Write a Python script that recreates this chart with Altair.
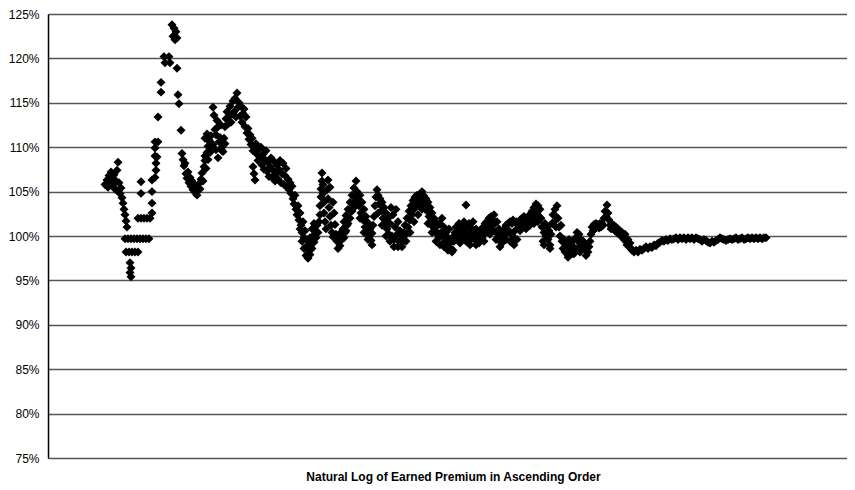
import altair as alt
import pandas as pd

# Position in ascending order of ln(earned premium) and ratio in percent
seg_left = [(105,105.8),(107,106.3),(108,105.5),(109,106.8),(110,105.9),(111,107.2),(112,106.4),(113,105.6),
            (114,106.9),(115,105.3),(116,106.2),(117,107.4),(118,108.3),(118,105.0),(119,106.0),(120,104.8),
            (121,105.4),(122,104.3),(123,103.7),(124,103.0),(125,102.4),(126,101.7),(127,101.0),
            (125,99.7),(128,99.7),(131,99.7),(134,99.7),(137,99.7),(140,99.7),(143,99.7),(146,99.7),(149,99.7),
            (126,98.2),(129,98.2),(132,98.2),(135,98.2),(138,98.2),
            (130,97.0),(131,96.4),(130,95.9),(131,95.4),
            (138,102.0),(141,102.0),(144,102.0),(147,102.0),(150,102.0),(152,102.6),
            (141,104.8),(141,106.1),(152,106.3),(152,105.0),(152,103.7)]
seg_spike = [(155,106.6),(156,107.4),(156,108.2),(155,109.0),(157,108.9),(155,109.9),(158,110.6),(155,110.6),
             (158,113.4),(161,116.2),(161,117.3),(164,120.2),(165,119.5),(169,120.2),(170,119.5),
             (172,123.8),(174,123.4),(176,123.0),(173,122.5),(175,122.1),(177,122.3),(177,118.9),
             (178,115.9),(179,114.9),(181,111.9)]
seg_vee = [(182,109.3),(183,108.6),(184,107.9),(185,108.2),(186,107.0),(187,106.5),(188,107.2),(189,106.0),
           (190,106.6),(191,105.6),(192,106.2),(193,105.2),(194,105.8),(195,104.9),(196,105.3),(197,104.6),
           (198,105.4),(199,105.9),(200,105.3),(201,106.4),(202,107.1),(203,106.2),(204,107.8),(205,108.5),
           (206,107.6),(207,109.4),(208,110.1),(209,110.7),(210,110.0)]
seg_peak = [(205,111.0),(207,111.5),(209,110.8),(211,111.3),(213,114.5),(214,113.6),(215,112.0),(216,111.4),
            (217,113.0),(218,112.3),(219,110.6),(220,111.1),(221,112.5),(222,110.0),(223,109.5),(224,111.0),
            (225,112.3),(226,113.2),(227,114.0),(228,112.6),(229,113.5),(230,114.6),(231,112.8),(232,113.7),
            (233,115.2),(234,114.0),(235,115.5),(236,113.4),(237,116.1),(238,114.5),(239,115.0),(240,113.5),
            (241,114.6),(242,112.8),(243,113.8),(244,114.3),(245,112.3),(246,113.4),(247,111.6),(248,112.1),
            (249,110.9),(250,111.4),
            (205,109.0),(208,108.6),(210,109.4),(213,110.3),(216,109.7),(218,108.8),(222,109.6),(225,110.4)]
seg_slide = [(251,110.3),(252,111.0),(253,109.6),(253,107.8),(254,107.0),(255,106.3),(255,109.8),(256,110.4),
             (257,109.2),(258,108.5),(259,109.8),(260,108.8),(261,110.0),(262,108.0),(263,109.2),(264,107.5),
             (265,108.6),(266,109.6),(267,107.3),(268,108.3),(269,106.7),(270,107.8),(271,108.8),(272,106.6),
             (273,107.4),(274,108.4),(275,106.2),(276,107.0),(277,108.0),(278,106.4),(279,107.5),(280,108.5),
             (281,106.0),(282,107.0),(283,108.2),(284,105.8),(285,106.8),(286,107.6),(287,105.5),(288,106.4),
             (289,105.2),(290,106.0)]
seg_waves1 = [(291,104.8),(292,105.6),(293,104.2),(294,103.6),(295,104.6),(296,103.0),(297,102.4),(298,103.4),
              (299,101.8),(300,102.6),(301,101.2),(302,100.4),(303,101.6),(304,99.8),(305,100.6),(306,98.8),
              (307,99.6),(308,97.5),(309,98.4),(310,97.9),(311,99.2),(312,98.6),(313,100.0),(314,99.3),
              (315,100.6),(316,99.8),(317,101.2),(318,100.4),
              (319,101.6),(320,102.4),(320,103.4),(321,104.4),(321,105.3),(322,106.2),(322,107.1),(323,105.8),
              (323,104.8),(324,103.8),(324,102.6),(325,101.6),(326,100.8),
              (327,105.2),(328,106.3),(328,104.2),(329,103.2),(330,105.5),(330,102.2),(331,101.2),(332,100.4),
              (333,99.9),(333,103.8),(334,102.6),
              (335,101.3),(336,100.2),(337,99.4),(338,98.6),(339,99.8),(340,98.9),(341,100.4),(342,99.6),
              (343,100.8),(344,101.6),(345,100.4),(346,102.3),(347,101.2),(348,103.0),(349,102.0),(350,103.8),
              (351,102.8),(352,104.6),(353,103.5),(354,105.4),(355,104.3),(356,106.2),(357,105.0)]
seg_waves2 = [(358,104.2),(359,103.4),(360,104.6),(361,102.6),(362,103.8),(363,101.8),(364,103.0),(365,101.0),
              (366,102.2),(367,100.3),(368,101.5),(369,99.8),(370,100.8),(371,99.5),(372,100.3),(373,101.2),
              (374,102.2),(375,103.4),(376,104.4),(377,105.2),(378,104.6),(379,103.6),(380,104.2),(381,102.8),
              (382,103.8),(383,102.0),(384,103.2),(385,101.4),(386,102.6),(387,100.8),(388,102.0),(389,100.2),
              (390,101.4),(391,103.2),(392,100.0),(393,102.4),(394,99.6),(395,101.0),(396,103.0),(397,100.2),
              (398,101.6),(399,99.4),(400,100.6),(401,99.2),(402,100.0),(403,99.4),
              (404,100.4),(405,101.2),(406,100.2),(407,102.0),(408,101.0),(409,102.8),(410,101.8),(411,103.4),
              (412,102.4),(413,104.0),(414,103.0),(415,104.4),(416,103.4),(417,104.6),(418,103.6),(419,104.2),
              (420,103.4),(421,104.8),(422,105.0),(423,104.0),(424,104.5)]
seg_waves3 = [(425,103.6),(426,104.2),(427,102.8),(428,103.8),(429,102.2),(430,103.2),(431,101.6),(432,102.6),
              (433,101.0),(434,102.0),(435,100.6),(436,101.6),(437,100.2),(438,101.2),(439,99.8),(440,101.4),
              (441,100.4),(442,102.0),(443,100.0),(444,101.0),(445,99.4),(446,100.4),(447,98.8),(448,99.8),
              (449,100.8),(450,99.2),(451,98.6),(452,99.8),(453,98.4),(454,99.4),(455,100.4),
              (456,101.0),(457,99.8),(458,100.8),(459,101.4),(460,100.2),(461,101.2),(462,99.6),(463,100.6),
              (464,101.6),(465,100.2),(466,103.5),(467,101.0),(468,100.0),(469,101.4),(470,100.4),(471,99.6),
              (472,100.8),(473,101.6),(474,100.2),(475,99.6),(476,100.8),(477,99.4),(478,100.2),(479,99.2),
              (480,100.0),(481,100.6),(482,99.8),(483,101.0),(484,100.2),(485,101.4),(486,100.6),(487,101.6),
              (488,100.8),(489,102.0),(490,101.2),(491,102.2),(492,100.8),(493,101.8),(494,102.4),(495,101.4),
              (496,100.4),(497,101.6),(498,99.8),(499,100.8),(500,99.4),(501,100.2),(502,99.2),(503,100.0)]
seg_waves4 = [(504,100.8),(505,100.2),(506,101.2),(507,100.4),(508,101.4),(509,100.6),(510,101.6),(511,100.2),
              (512,101.4),(513,101.8),(514,99.8),(515,100.6),(516,101.6),(517,99.6),(518,101.2),(519,100.8),
              (520,101.8),(521,101.2),(522,102.0),(523,101.4),(524,102.2),(525,101.6),(526,102.0),(527,101.4),
              (528,102.2),(529,101.6),(530,102.4),(531,101.8),(532,102.8),(533,102.0),(534,103.2),(535,102.4),
              (536,103.6),(537,102.6),(538,103.4),(539,102.2),(540,103.0),(541,102.0),(542,101.0),(543,99.4),
              (544,100.4),(545,101.4),(546,100.0),(547,101.0),(548,99.6),(549,100.6),(550,99.0),(551,100.2),
              (552,101.4),(553,102.4),(554,101.6),(555,103.0),(556,102.2),(557,103.4),(558,102.0),(559,101.0),
              (560,100.0),(561,101.2),(562,99.4),(563,98.6),(564,99.6),(565,98.2),(566,99.0),(567,98.0),
              (568,98.8),(569,99.6),(570,98.4),(571,99.2),(572,98.0),(573,98.8),(574,99.6),(575,98.6),
              (576,99.8),(577,100.4),(578,99.4),(579,100.2),(580,98.9),(581,99.6),(582,98.8),(583,99.4),
              (584,98.6),(585,99.2),(586,98.4),(587,99.0),(588,98.2),(589,98.8),(590,99.4)]
seg_waves5 = [(591,100.2),(592,101.0),(593,100.6),(594,101.3),(595,100.8),(596,101.4),(597,101.0),(598,101.3),
              (599,100.9),(600,101.4),(601,101.0),(602,101.4),(603,101.2),(604,102.0),(605,102.8),(606,102.2),
              (607,103.5),(608,102.6),(609,101.8),(610,101.2),(611,100.8),(612,101.3),(613,100.8),(614,101.2),
              (615,100.6),(616,101.0),(617,100.4),(618,100.8),(619,100.2),(620,100.6),(621,100.0),(622,100.4),
              (623,100.0),(624,99.6),(625,100.2),(626,99.4),(627,99.0),(628,99.6),(629,98.8),(630,99.2),
              (631,98.6),(632,98.4)]
seg_band = [(300,100.8),(302,99.4),(304,98.6),(306,97.8),(308,98.8),(310,99.8),(312,100.8),(314,101.4),
            (344,99.8),(346,100.6),(348,101.4),(350,102.0),(352,102.8),(354,103.2),(356,104.0),
            (360,102.0),(364,100.4),(368,99.6),(372,99.0),
            (378,102.6),(382,101.2),(386,100.0),(390,99.4),(394,98.8),(398,98.8),(402,98.8),
            (406,99.4),(410,100.4),(414,101.6),(418,102.4),(422,103.0),
            (428,101.4),(432,100.4),(436,99.4),(440,99.0),(444,98.8),(448,98.4),(452,98.2),
            (460,99.2),(466,99.4),(470,99.0),(476,99.0),(484,99.4),(490,100.2),(496,99.6),(500,98.8),
            (506,99.6),(510,99.4),(514,99.0),(520,100.6),(526,100.8),(530,101.2),
            (534,101.4),(538,101.6),(544,99.0),(550,98.6),(556,101.0),
            (568,97.6),(574,98.0),(580,98.2),(586,97.8)]
seg_tail = [(634,98.2),(636,98.4),(638,98.2),(640,98.5),(642,98.4),(644,98.6),(646,98.8),(648,98.6),
            (650,98.8),(652,98.7),(654,99.0),(656,98.9),(658,99.2),(660,99.3),(662,99.5),(664,99.4),
            (666,99.6),(668,99.5),(670,99.7),(672,99.6),(674,99.7),(676,99.8),(678,99.6),(680,99.8),
            (682,99.7),(684,99.8),(686,99.6),(688,99.8),(690,99.7),(692,99.8),(694,99.6),(696,99.8),
            (698,99.7),(700,99.6),(702,99.4),(704,99.6),(706,99.5),(708,99.3),(710,99.2),(712,99.4),
            (714,99.3),(716,99.5),(718,99.6),(720,99.8),(722,99.7),(724,99.6),(726,99.5),(728,99.6),
            (730,99.7),(732,99.6),(734,99.7),(736,99.8),(738,99.6),(740,99.7),(742,99.8),(744,99.6),
            (746,99.7),(748,99.8),(750,99.7),(752,99.8),(754,99.7),(756,99.8),(758,99.7),(760,99.8),
            (762,99.7),(764,99.8),(766,99.8)]

y_ticks = [75, 80, 85, 90, 95, 100, 105, 110, 115, 120, 125]

segments = [seg_left, seg_spike, seg_vee, seg_peak, seg_slide, seg_waves1, seg_waves2,
            seg_waves3, seg_waves4, seg_waves5, seg_band, seg_tail]
rows = [{"order": o, "pct": p} for seg in segments for (o, p) in seg]
df = pd.DataFrame(rows)

chart = alt.Chart(df).mark_point(
    shape="diamond", filled=True, color="#000000", size=80, opacity=1
).encode(
    x=alt.X("order:Q",
            scale=alt.Scale(domain=[48, 847], nice=False, zero=False),
            axis=alt.Axis(title="Natural Log of Earned Premium in Ascending Order",
                          labels=False, ticks=False, grid=False, domain=False,
                          titleFont="Liberation Sans", titleFontSize=12, titleFontWeight="bold",
                          titleColor="#000000", titlePadding=13, titleX=405)),
    y=alt.Y("pct:Q",
            scale=alt.Scale(domain=[75, 125], nice=False, zero=False),
            axis=alt.Axis(title=None, values=y_ticks, labelExpr="datum.value + '%'",
                          labelFont="Liberation Sans", labelFontSize=12, labelColor="#000000",
                          ticks=False, labelPadding=9, domainColor="#000000", domainWidth=1.5,
                          gridColor="#555555", gridWidth=1.3, gridOpacity=1))
).properties(
    width=799, height=444,
    autosize=alt.AutoSizeParams(type="none"),
    padding={"left": 40, "top": 6, "right": 0, "bottom": 30}
).configure_view(strokeWidth=0).configure(background="#ffffff")

chart.save("out.html", embed_options={"renderer": "svg", "actions": False})
